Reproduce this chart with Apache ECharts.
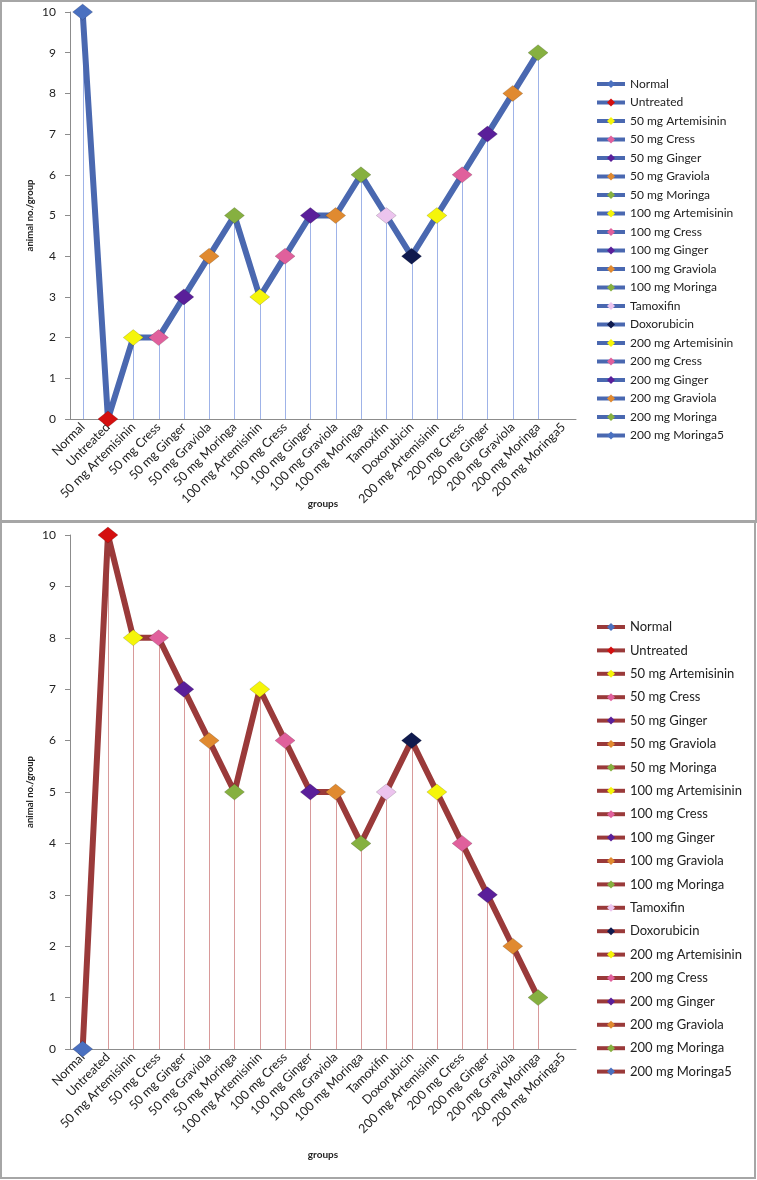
<!DOCTYPE html>
<html>
<head>
<meta charset="utf-8">
<script src="https://cdn.jsdelivr.net/npm/echarts@6/dist/echarts.min.js"></script>
<style>
html,body{margin:0;padding:0;background:#fff;}
#wrap{position:relative;width:757px;height:1180px;}
#c1{position:absolute;left:0;top:0;width:757px;height:521px;}
#c2{position:absolute;left:0;top:521px;width:757px;height:659px;}
.bx{position:absolute;border:2px solid #a6a6a6;box-sizing:border-box;pointer-events:none;}
</style>
</head>
<body>
<div id="wrap">
<div id="c1"></div>
<div id="c2"></div>
<div class="bx" style="left:0;top:0;width:757px;height:523px;"></div>
<div class="bx" style="left:0;top:520px;width:756px;height:659px;"></div>
</div>
<script>
// ---- data ----
const categories = ["Normal","Untreated","50 mg Artemisinin","50 mg Cress","50 mg Ginger","50 mg Graviola","50 mg Moringa","100 mg Artemisinin","100 mg Cress","100 mg Ginger","100 mg Graviola","100 mg Moringa","Tamoxifin","Doxorubicin","200 mg Artemisinin","200 mg Cress","200 mg Ginger","200 mg Graviola","200 mg Moringa","200 mg Moringa5"];
const topValues = [10,0,2,2,3,4,5,3,4,5,5,6,5,4,5,6,7,8,9,null];
const bottomValues = [0,10,8,8,7,6,5,7,6,5,5,4,5,6,5,4,3,2,1,null];
const yTicks = [0,1,2,3,4,5,6,7,8,9,10];
const pointColors = ["#4a70c0","#d40f0f","#f5f50a","#e0609c","#5a1f9a","#e08a30","#86b040","#f5f50a","#e0609c","#5a1f9a","#e08a30","#86b040","#ecc4ee","#0f1a4e","#f5f50a","#e0609c","#5a1f9a","#e08a30","#86b040","#4a70c0"];

const FONT = "Lato, 'Open Sans', sans-serif";

function build(values, lineColor, dropColor, cfg){
  const mainData = values.map((v,i)=> v===null ? null : {value:v, itemStyle:{color:pointColors[i], borderColor:'rgba(0,0,0,0.25)', borderWidth:0.6}});
  const dropData = values.map((v,i)=> [i, v===null ? 0 : v]);
  const series = [
    {type:'custom', name:'drop', data: dropData, z:1, silent:true,
     renderItem:function(params, api){
       const top = api.coord([api.value(0), api.value(1)]);
       const bot = api.coord([api.value(0), 0]);
       const x = Math.round(top[0]) + 0.5;
       return {type:'line', shape:{x1:x, y1:top[1], x2:x, y2:bot[1]}, style:{stroke:dropColor, lineWidth:1}};
     }},
    {type:'line', name:'main', data: mainData, symbol:'diamond', symbolSize:[20,16], showAllSymbol:true,
     lineStyle:{color:lineColor, width:6}, itemStyle:{color:lineColor}, z:3, connectNulls:false}
  ];
  categories.forEach((c,i)=>{
    series.push({type:'line', name:c, data:[], symbol:'diamond', symbolSize:10,
      lineStyle:{color:lineColor, width:4}, itemStyle:{color:pointColors[i]}});
  });
  return {
    animation:false,
    textStyle:{fontFamily:FONT},
    grid:{left:70, width:506, top:cfg.gridTop, height:cfg.gridH, containLabel:false, outerBoundsMode:'none'},
    xAxis:{type:'category', data:categories, boundaryGap:true,
      axisLine:{lineStyle:{color:'#8c8c8c', width:1}}, axisTick:{show:false},
      axisLabel:{rotate:45, fontSize:12.5, color:'#222', fontFamily:FONT, interval:0, margin:6},
      name:'groups', nameLocation:'middle', nameGap:cfg.xNameGap, nameMoveOverlap:false,
      nameTextStyle:{fontWeight:'bold', fontSize:10, color:'#222', fontFamily:FONT}},
    yAxis:{type:'value', min:yTicks[0], max:yTicks[yTicks.length-1], interval:1,
      axisLine:{show:true, lineStyle:{color:'#8c8c8c', width:1}},
      axisTick:{show:true, length:5, lineStyle:{color:'#8c8c8c'}},
      splitLine:{show:false},
      axisLabel:{fontSize:12, color:'#222', fontFamily:FONT, margin:14},
      name:'animal no./group', nameLocation:'middle', nameGap:35, nameRotate:90, nameMoveOverlap:false,
      nameTextStyle:{fontWeight:'bold', fontSize:9.5, color:'#222', fontFamily:FONT}},
    legend:{orient:'vertical', left:595, top:cfg.legTop, padding:0, data:categories, itemWidth:28, itemHeight:10,
      itemGap:cfg.legGap, textStyle:{fontSize:cfg.legFont, color:'#222', fontFamily:FONT}, selectedMode:false,
      lineStyle:{width:4}},
    series: series
  };
}

const ch1 = echarts.init(document.getElementById('c1'), null, {renderer:'canvas'});
ch1.setOption(build(topValues, '#4a68b0', '#9fb3e8', {gridTop:12, gridH:407, xNameGap:80, legTop:78, legGap:6.5, legFont:12}));
const ch2 = echarts.init(document.getElementById('c2'), null, {renderer:'canvas'});
ch2.setOption(build(bottomValues, '#9a3a3a', '#d89a9a', {gridTop:14, gridH:514, xNameGap:101, legTop:99.5, legGap:10.4, legFont:13}));
</script>
</body>
</html>
